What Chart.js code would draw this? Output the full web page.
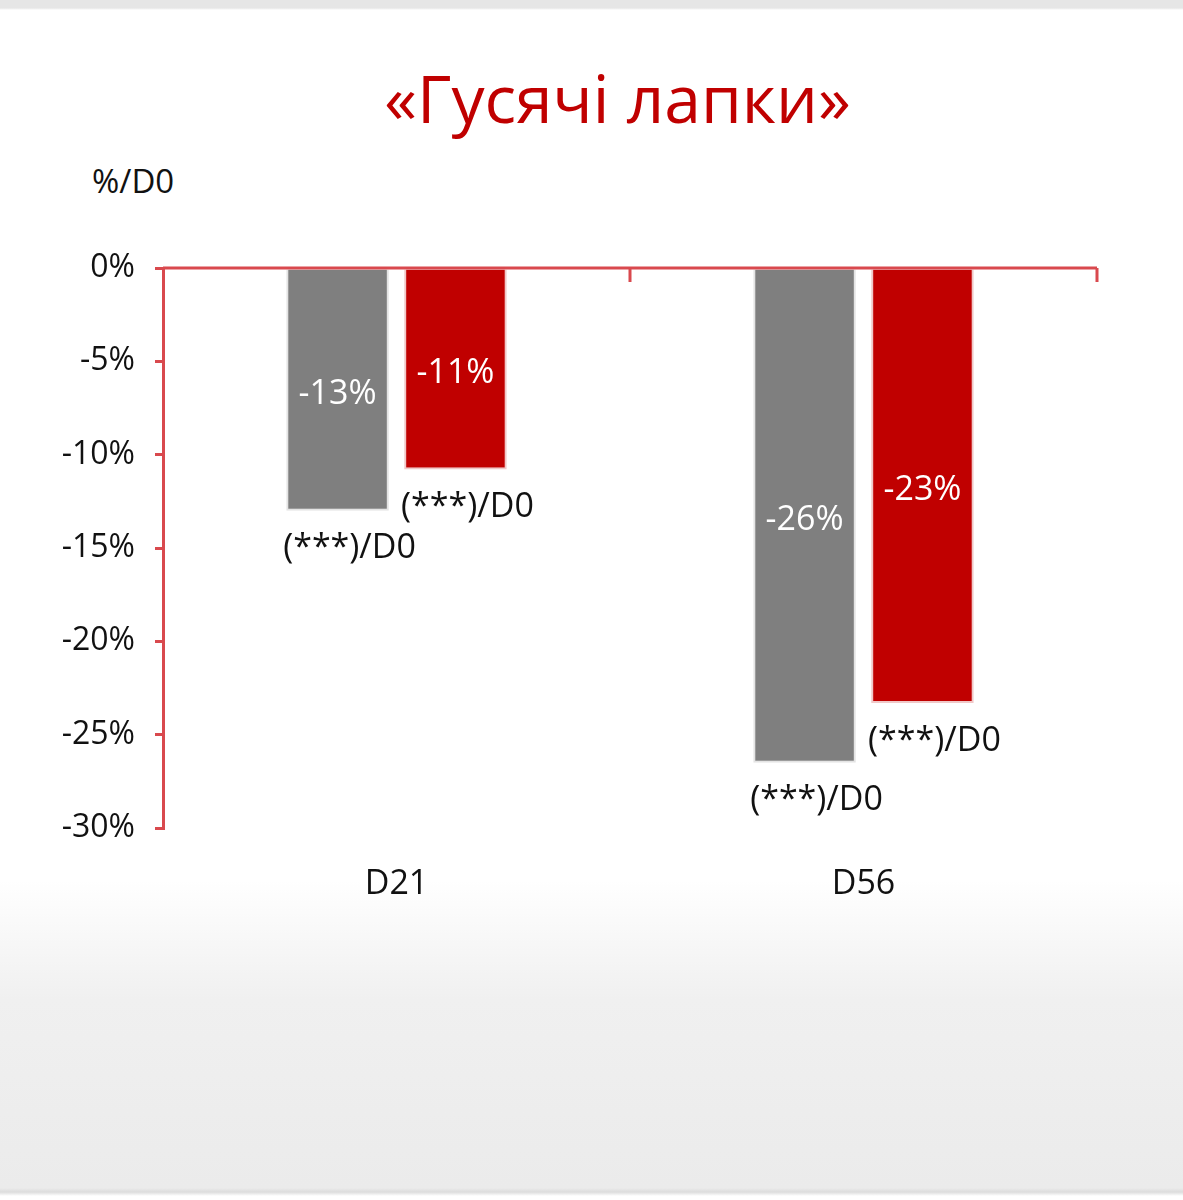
<!DOCTYPE html>
<html>
<head>
<meta charset="utf-8">
<script src="https://cdn.jsdelivr.net/npm/chart.js@4"></script>
<style>
  body { margin:0; width:1183px; height:1200px; overflow:hidden;
    background: linear-gradient(to bottom, #e6e6e6 0px, #e6e6e6 8px, #fff 10px, #fff 880px, #f0f0f0 1000px, #ebebeb 1188px, #dcdcdc 1192px, #fff 1196px);
    font-family: "Open Sans", sans-serif; position:relative; }
  #title { position:absolute; left:0; width:1235px; top:52px; text-align:center;
    color:#c00000; font-size:66px; }
  #unit { position:absolute; left:92px; top:158px; font-size:33px; color:#111; }
  #wrap { position:absolute; left:0; top:0; width:1183px; height:1200px; }
</style>
</head>
<body>
<div id="title">«Гусячі лапки»</div>
<div id="unit">%/D0</div>
<div id="wrap"><canvas id="myChart"></canvas></div>
<script>
// categories and values
var categories = ['D21', 'D56'];
var greyValues = [-13, -26.5];
var redValues = [-10.8, -23.3];
var greyLabels = ['-13%', '-26%'];
var redLabels = ['-11%', '-23%'];
var belowLabel = '(***)/D0';

var RED = '#c00000';

// zero line along the top + small ticks
var zeroLine = {
  id: 'zeroLine',
  afterDatasetsDraw: function(chart) {
    var c = chart.ctx, x = chart.scales.x, y = chart.scales.y;
    var y0 = y.getPixelForValue(0);
    c.save();
    c.strokeStyle = '#d9494e';
    c.lineWidth = 3;
    c.beginPath();
    c.moveTo(x.left, y0); c.lineTo(x.right, y0);
    var mid = (x.getPixelForValue(0) + x.getPixelForValue(1)) / 2;
    c.moveTo(mid, y0); c.lineTo(mid, y0 + 14);
    c.moveTo(x.right, y0); c.lineTo(x.right, y0 + 14);
    c.stroke();
    c.restore();
  }
};

// value labels inside bars and "(***)/D0" under them
var barLabels = {
  id: 'barLabels',
  afterDatasetsDraw: function(chart) {
    var c = chart.ctx;
    c.save();
    c.textAlign = 'center';
    c.textBaseline = 'middle';
    chart.data.datasets.forEach(function(ds, di) {
      var meta = chart.getDatasetMeta(di);
      meta.data.forEach(function(bar, i) {
        c.fillStyle = '#fff';
        c.font = '34px "Open Sans"';
        c.fillText(ds.inside[i], bar.x, (bar.y + bar.base) / 2 + 4);
        c.fillStyle = '#111';
        c.fillText(belowLabel, bar.x + 12, bar.y + 38);
      });
    });
    c.restore();
  }
};

var ctx = document.getElementById('myChart').getContext('2d');
var myChart = new Chart(ctx, {
  type: 'bar',
  data: {
    labels: categories,
    datasets: [{
      data: greyValues,
      inside: greyLabels,
      backgroundColor: '#7f7f7f',
      borderColor: '#e4e4e4',
      borderWidth: 2
    }, {
      data: redValues,
      inside: redLabels,
      backgroundColor: '#c00000',
      borderColor: '#f0c8c8',
      borderWidth: 2
    }]
  },
  options: {
    responsive: true,
    maintainAspectRatio: false,
    animation: false,
    layout: { padding: { top: 268, right: 86, bottom: 272, left: 0 } },
    plugins: { legend: { display: false }, tooltip: { enabled: false } },
    datasets: { bar: { categoryPercentage: 0.505, barPercentage: 0.87 } },
    scales: {
      x: {
        grid: { display: false },
        border: { display: false },
        ticks: { color: '#111', font: { size: 34, family: 'Open Sans' }, padding: 28 },
        afterFit: function(s) { s.height = 100; }
      },
      y: {
        min: -30, max: 0,
        grid: { drawOnChartArea: false, color: '#d9494e', tickLength: 8, lineWidth: 3 },
        border: { color: '#d9494e', width: 3 },
        ticks: { stepSize: 5, color: '#111', font: { size: 32, family: 'Open Sans' }, padding: 20,
          callback: function(v) { return v + '%'; } },
        afterFit: function(s) { s.width = 163; }
      }
    }
  },
  plugins: [zeroLine, barLabels]
});
</script>
</body>
</html>
